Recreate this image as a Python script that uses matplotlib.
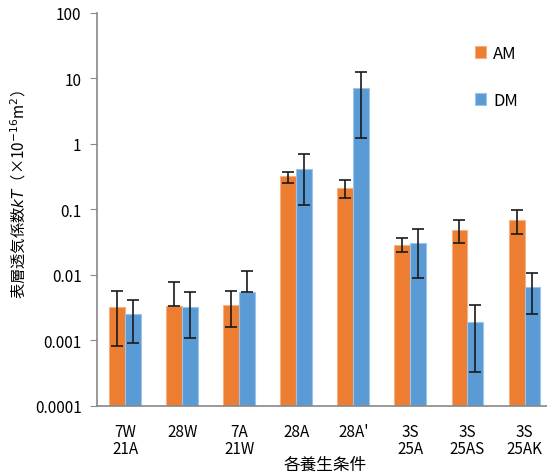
import matplotlib
matplotlib.use("Agg")
from matplotlib import pyplot as plt
import numpy as np

plt.rcParams['font.family'] = ['Noto Sans CJK JP', 'DejaVu Sans']
plt.rcParams['mathtext.fontset'] = 'dejavusans'

# curing conditions and kT values (x10^-16 m2)
conditions = ["7W\n21A", "28W", "7A\n21W", "28A", "28A'", "3S\n25A", "3S\n25AS", "3S\n25AK"]
am = [0.0032, 0.0034, 0.0035, 0.32, 0.21, 0.029, 0.049, 0.068]
dm = [0.0025, 0.0032, 0.0054, 0.42, 7.0, 0.031, 0.0019, 0.0066]

# error bar ends (lower / upper)
am_lo = [0.00083, 0.0034, 0.0016, 0.254, 0.151, 0.0224, 0.031, 0.042]
am_hi = [0.0056, 0.0078, 0.0056, 0.378, 0.282, 0.036, 0.068, 0.098]
dm_lo = [0.00092, 0.0011, 0.0054, 0.118, 1.24, 0.009, 0.00033, 0.0025]
dm_hi = [0.0042, 0.0054, 0.0115, 0.695, 12.7, 0.051, 0.0035, 0.0105]

yticks = [0.0001, 0.001, 0.01, 0.1, 1, 10, 100]
ytick_labels = ["0.0001", "0.001", "0.01", "0.1", "1", "10", "100"]

orange = '#ED7D31'
blue = '#5B9BD5'

fig = plt.figure(figsize=(5.47, 4.77), dpi=100)
ax = fig.add_axes([0.177, 0.147, 0.834, 0.824])

x = np.arange(len(conditions))
w = 0.28

am = np.array(am)
dm = np.array(dm)
am_err = np.clip([am - np.array(am_lo), np.array(am_hi) - am], 0, None)
dm_err = np.clip([dm - np.array(dm_lo), np.array(dm_hi) - dm], 0, None)

ax.bar(x - w / 2, am, w, color=orange, edgecolor='#F4B183', linewidth=0.8,
       label='AM', zorder=2)
ax.bar(x + w / 2, dm, w, color=blue, edgecolor='#9DC3E6', linewidth=0.8,
       label='DM', zorder=2)
ax.errorbar(x - w / 2, am, yerr=am_err, fmt='none', ecolor='#1a1a1a',
            elinewidth=1.2, capsize=4, capthick=1.2, zorder=3)
ax.errorbar(x + w / 2, dm, yerr=dm_err, fmt='none', ecolor='#1a1a1a',
            elinewidth=1.2, capsize=4, capthick=1.2, zorder=3)

ax.set_yscale('log')
ax.set_ylim(0.0001, 100)
ax.set_xlim(-0.5, 7.5)
ax.set_yticks(yticks)
ax.set_yticklabels(ytick_labels)
ax.yaxis.set_minor_locator(matplotlib.ticker.NullLocator())
ax.set_xticks(x)
ax.set_xticklabels(conditions, fontsize=11, va='top', linespacing=1.0)

for s in ['top', 'right']:
    ax.spines[s].set_visible(False)
for s in ['left', 'bottom']:
    ax.spines[s].set_color('#888888')
    ax.spines[s].set_linewidth(1.2)
ax.tick_params(axis='y', direction='out', length=5, color='#888888',
               labelsize=11, pad=6)
ax.tick_params(axis='x', length=0, pad=12)

ax.set_ylabel('表層透気係数$kT$（×10$^{-16}$m$^2$）', fontsize=11)
ax.yaxis.set_label_coords(-0.15, 0.54)
ax.set_xlabel('各養生条件', fontsize=12)
ax.xaxis.set_label_coords(0.5, -0.128)

ax.legend(loc='upper left', bbox_to_anchor=(0.828, 0.918), frameon=False,
          fontsize=12, handlelength=0.7, handleheight=0.7,
          labelspacing=1.8, handletextpad=0.4, borderpad=0, borderaxespad=0)

fig.savefig('out.png', dpi=100)
